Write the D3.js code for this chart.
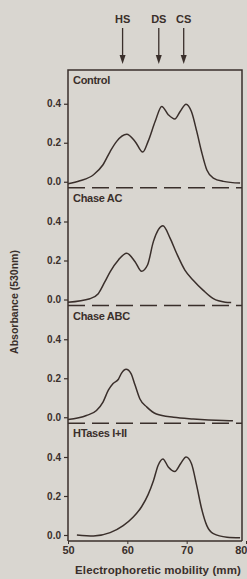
<!DOCTYPE html>
<html>
<head>
<meta charset="utf-8">
<script src="https://cdn.jsdelivr.net/npm/d3@7"></script>
<style>
  html, body { margin: 0; padding: 0; background: #d9d6d0; }
  svg { display: block; }
  text { font-family: "Liberation Sans", Arial, sans-serif; font-weight: bold; fill: #3a2f2b; }
</style>
</head>
<body>
<div id="chart"></div>
<script>
(function(d3){
  'use strict';

  // panel titles, top to bottom
  var panelNames = ['Control', 'Chase AC', 'Chase ABC', 'HTases I+II'];

  // marker arrows above the plot
  var markerNames = ['HS', 'DS', 'CS'];
  var markerPos = [59.2, 65.3, 69.5];

  // electrophoretic mobility (mm) / absorbance (530nm)
  var controlMob = [50, 52, 54.3, 55.9, 57.1, 58.2, 59.9, 61.3, 62.6, 63.5, 64.7, 65.8, 66.9, 68.0, 68.9, 69.9, 70.8, 71.7, 72.5, 73.4, 74.5, 76.2, 79];
  var controlAbs = [-0.01, 0.005, 0.036, 0.087, 0.155, 0.207, 0.243, 0.207, 0.152, 0.207, 0.31, 0.386, 0.344, 0.322, 0.36, 0.398, 0.36, 0.258, 0.155, 0.06, 0.019, 0.002, -0.007];

  var chaseAcMob = [50, 53.7, 55.1, 56.2, 57.1, 58.5, 59.9, 61.3, 62.4, 63.4, 64.4, 66.0, 67.2, 68.3, 69.7, 71.1, 72.8, 74.5, 76.5, 77.5];
  var chaseAcAbs = [-0.014, 0.004, 0.03, 0.09, 0.142, 0.203, 0.237, 0.194, 0.145, 0.177, 0.298, 0.378, 0.315, 0.237, 0.151, 0.099, 0.047, 0.004, -0.014, -0.016];

  var chaseAbcMob = [50, 53.1, 54.8, 55.9, 56.8, 57.6, 58.5, 59.0, 59.8, 60.6, 61.3, 62.1, 63.3, 64.9, 67.8, 71.1, 76.2, 77.8];
  var chaseAbcAbs = [-0.012, 0.009, 0.035, 0.078, 0.139, 0.173, 0.195, 0.225, 0.246, 0.225, 0.165, 0.095, 0.052, 0.017, 0.0, -0.009, -0.017, -0.018];

  var htasesMob = [51.5, 54.3, 57.1, 59.3, 61.0, 62.4, 63.5, 64.4, 65.2, 66.0, 66.9, 68.0, 69.0, 69.9, 70.8, 71.7, 72.5, 73.4, 74.5, 76.8, 79];
  var htasesAbs = [0, -0.005, 0.012, 0.048, 0.092, 0.145, 0.207, 0.278, 0.358, 0.39, 0.349, 0.326, 0.367, 0.4, 0.367, 0.252, 0.137, 0.048, 0.007, -0.011, -0.014];

  var series = [
    {mob: controlMob, abs: controlAbs},
    {mob: chaseAcMob, abs: chaseAcAbs},
    {mob: chaseAbcMob, abs: chaseAbcAbs},
    {mob: htasesMob, abs: htasesAbs}
  ];

  var xTicks = [50, 60, 70, 80];
  var yTicks = [0.0, 0.2, 0.4];

  var ink = '#3a2f2b';
  var width = 247, height = 579;
  var left = 68, right = 242, top = 70, bottom = 541;
  var panelH = (bottom - top) / panelNames.length;

  var svg = d3.select('#chart').append('svg')
    .attr('width', width)
    .attr('height', height);

  var x = d3.scaleLinear().domain([50, 80]).range([left, 246]);
  var y = d3.scaleLinear()
    .domain([-6 / 195, (panelH - 6) / 195])
    .range([panelH, 0]);

  var line = d3.line()
    .x(function(d) { return x(d[0]); })
    .y(function(d) { return y(d[1]); })
    .curve(d3.curveMonotoneX);

  // panels
  panelNames.forEach(function(name, i) {
    var g = svg.append('g')
      .attr('transform', 'translate(0,' + (top + i * panelH) + ')');

    var axis = g.append('g')
      .attr('transform', 'translate(' + left + ',0)')
      .call(d3.axisLeft(y).tickValues(yTicks).tickFormat(d3.format('.1f')).tickSize(4).tickPadding(3));
    axis.select('.domain').remove();
    axis.selectAll('line').attr('stroke', ink).attr('stroke-width', 1.2);
    axis.selectAll('text').attr('font-size', 10).attr('fill', ink)
      .style('font-family', '"Liberation Sans", Arial, sans-serif').style('font-weight', 'bold');

    g.append('text')
      .attr('x', left + 5)
      .attr('y', 14)
      .attr('font-size', 11)
      .attr('letter-spacing', -0.3)
      .text(name);

    var pts = d3.zip(series[i].mob, series[i].abs);
    g.append('path')
      .datum(pts)
      .attr('d', line)
      .attr('fill', 'none')
      .attr('stroke', ink)
      .attr('stroke-width', 1.5);

    if (i > 0) {
      g.append('line')
        .attr('x1', left).attr('x2', right)
        .attr('y1', 0).attr('y2', 0)
        .attr('stroke', ink)
        .attr('stroke-width', 1.3)
        .attr('stroke-dasharray', '17,7');
    }
  });

  // frame
  svg.append('path')
    .attr('d', 'M' + left + ',' + bottom + 'V' + top + 'H' + right + 'V' + bottom)
    .attr('fill', 'none')
    .attr('stroke', ink)
    .attr('stroke-width', 1.5);

  // x axis
  var xAxis = svg.append('g')
    .attr('transform', 'translate(0,' + bottom + ')')
    .call(d3.axisBottom(x).tickValues(xTicks).tickFormat(d3.format('d')).tickSize(3).tickPadding(2));
  xAxis.select('.domain').remove();
  xAxis.selectAll('line').attr('stroke', ink);
  xAxis.selectAll('text').attr('font-size', 11).attr('fill', ink)
    .style('font-family', '"Liberation Sans", Arial, sans-serif').style('font-weight', 'bold');
  // last label sits against the page edge
  xAxis.selectAll('.tick').filter(function(d) { return d === 80; })
    .select('text').attr('text-anchor', 'end').attr('dx', 1);
  svg.append('line')
    .attr('x1', left).attr('x2', right)
    .attr('y1', bottom).attr('y2', bottom)
    .attr('stroke', ink).attr('stroke-width', 1.5);

  svg.append('text')
    .attr('x', 158)
    .attr('y', 574)
    .attr('text-anchor', 'middle')
    .attr('font-size', 11.5)
    .attr('letter-spacing', 0.1)
    .text('Electrophoretic mobility  (mm)');

  svg.append('text')
    .attr('transform', 'translate(18,302) rotate(-90)')
    .attr('text-anchor', 'middle')
    .attr('font-size', 10.5)
    .text('Absorbance (530nm)');

  // arrows
  var marks = svg.append('g').selectAll('g')
    .data(d3.zip(markerNames, markerPos))
    .enter().append('g')
    .attr('transform', function(d) { return 'translate(' + x(d[1]) + ',0)'; });

  marks.append('text')
    .attr('y', 23)
    .attr('text-anchor', 'middle')
    .attr('font-size', 11)
    .text(function(d) { return d[0]; });
  marks.append('line')
    .attr('y1', 28).attr('y2', 58)
    .attr('stroke', ink).attr('stroke-width', 1.3);
  marks.append('path')
    .attr('d', 'M-3,55L3,55L0,64Z')
    .attr('fill', ink);

})(window.d3);
</script>
</body>
</html>
